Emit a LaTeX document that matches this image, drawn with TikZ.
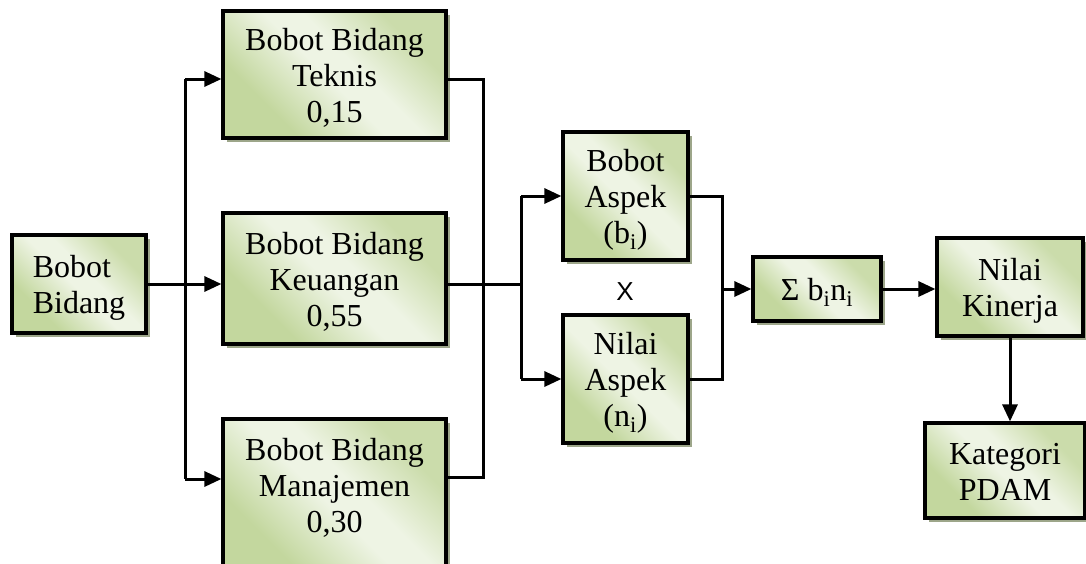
\documentclass[tikz,border=0pt]{standalone}
\usepackage{fontspec}
\setmainfont{Liberation Serif}
\newfontfamily\xsans{Liberation Sans}
\usetikzlibrary{arrows.meta,shadows}

\definecolor{olivedark}{HTML}{C3D79E}
\definecolor{olivelight}{HTML}{EEF4E4}
\definecolor{olivemid}{HTML}{CBDCAB}
\definecolor{shadowgrey}{HTML}{9DA68A}

% diagonal green wash: darker lower-left, pale middle, mid-tone upper-right
\pgfdeclarehorizontalshading{olivewash}{100bp}{%
  color(0bp)=(olivedark); color(30bp)=(olivedark);
  color(48bp)=(olivelight); color(56bp)=(olivelight);
  color(72bp)=(olivemid); color(100bp)=(olivemid)}

\tikzset{
  box/.style={draw=black, line width=3.2pt, shading=olivewash, shading angle=45,
    align=center, inner sep=0pt, font=\fontsize{32}{36}\selectfont,
    drop shadow={shadow xshift=4pt, shadow yshift=-4pt, fill=shadowgrey, opacity=1}},
  % fixed line boxes so the text block sits like a word processor's
  lines1/.style={text height=29.6pt, text depth=6.4pt},
  lines2/.style={text height=65.6pt, text depth=6.4pt},
  lines3/.style={text height=101.6pt, text depth=6.4pt},
  wire/.style={line width=3pt},
  arr/.style={wire, -{Triangle[length=17pt,width=15pt]}}
}

\begin{document}
\begin{tikzpicture}[x=1pt, y=-1pt]
  \useasboundingbox (0,0) rectangle (1086,563);
  \clip (0,0) rectangle (1086,563);
  \fill[white] (0,0) rectangle (1086,563);

  % blocks
  \node[box, lines2, minimum width=134pt, minimum height=98pt, align=left] (bb) at (79,284) {Bobot\\Bidang};
  \node[box, lines3, minimum width=223pt, minimum height=127pt] (tek) at (334.5,74.5) {Bobot Bidang\\Teknis\\0,15};
  \node[box, lines3, minimum width=223pt, minimum height=131pt] (keu) at (334.5,278.5) {Bobot Bidang\\Keuangan\\0,55};
  % this block runs past the lower edge, so its text is lifted with extra depth
  \node[box, lines3, text depth=35.4pt, minimum width=223pt, minimum height=160pt] (man) at (334.5,499) {Bobot Bidang\\Manajemen\\0,30};
  \node[box, lines3, minimum width=125pt, minimum height=128pt] (ba) at (625.5,196) {Bobot\\Aspek\\(b\textsubscript{i})};
  \node[box, lines3, minimum width=125pt, minimum height=128pt] (na) at (625.5,379) {Nilai\\Aspek\\(n\textsubscript{i})};
  \node[font=\xsans\fontsize{26}{26}\selectfont] (times) at (625,292) {X};
  \node[box, lines1, minimum width=128pt, minimum height=64pt] (sig) at (817,289) {Σ b\textsubscript{i}n\textsubscript{i}};
  \node[box, lines2, minimum width=146pt, minimum height=98pt] (nk) at (1010,287) {Nilai\\Kinerja};
  \node[box, lines2, minimum width=160pt, minimum height=95pt] (kat) at (1005,470.5) {Kategori\\PDAM};

  % junction points of the buses
  \coordinate (busT) at (185,79);
  \coordinate (busB) at (185,479);
  \coordinate (mrgT) at (483,79);
  \coordinate (mrgB) at (483,477);
  \coordinate (splitR) at (521,284);
  \coordinate (aspT) at (521,196);
  \coordinate (aspB) at (521,379);
  \coordinate (sumT) at (722,196);
  \coordinate (sumB) at (722,379);
  \coordinate (sumC) at (722,289);

  % fan-out from Bobot Bidang
  \draw[arr] (bb.east |- splitR) -- (keu.west |- splitR);
  \draw[wire] (busT) -- (busB);
  \draw[arr] (busT) -- (busT -| tek.west);
  \draw[arr] (busB) -- (busB -| man.west);

  % field weights merged
  \draw[wire] (mrgT -| tek.east) -- (mrgT) -- (mrgB) -- (mrgB -| man.east);
  \draw[wire] (keu.east |- splitR) -- (splitR);
  \draw[wire] (aspT) -- (aspB);
  \draw[arr] (aspT) -- (aspT -| ba.west);
  \draw[arr] (aspB) -- (aspB -| na.west);

  % product and sum
  \draw[wire] (sumT -| ba.east) -- (sumT) -- (sumB) -- (sumB -| na.east);
  \draw[arr] (sumC) -- (sumC -| sig.west);
  \draw[arr] (sig.east) -- (sig.east -| nk.west);
  \draw[arr] (nk.south) -- (nk.south |- kat.north);
\end{tikzpicture}
\end{document}
